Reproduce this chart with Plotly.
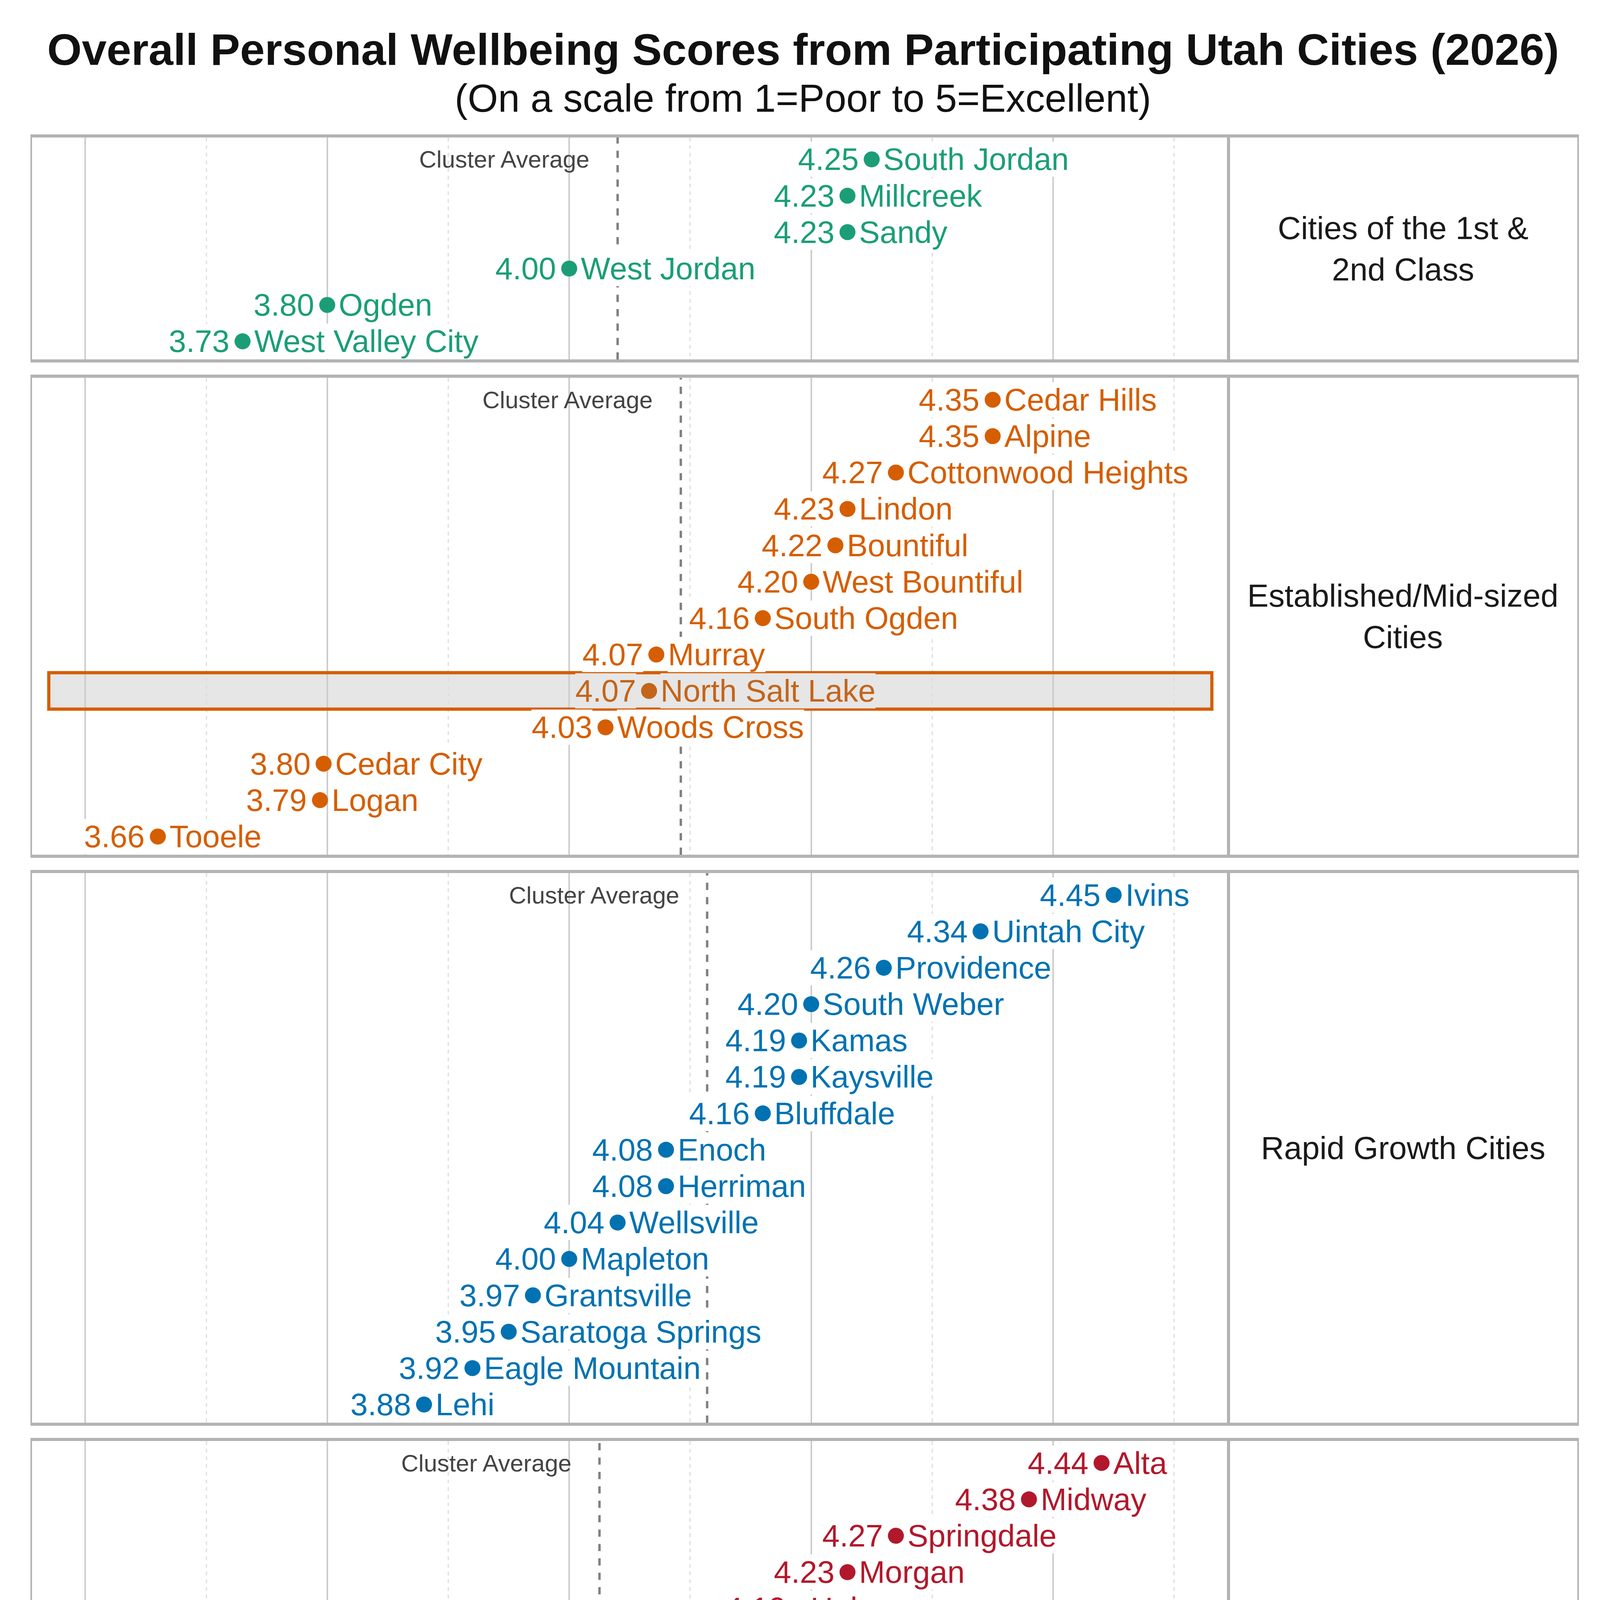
import plotly.graph_objects as go

# Title text
title = "Overall Personal Wellbeing Scores from Participating Utah Cities (2026)"
subtitle = "(On a scale from 1=Poor to 5=Excellent)"
x_title = "Average Score"

# Clusters
cluster_labels = ["Cities of the 1st &<br>2nd Class", "Established/Mid-sized<br>Cities",
                  "Rapid Growth Cities", "Rural Hub/Resort<br>Communities",
                  "Traditional Rural<br>Communities"]
cluster_colors = ["#1b9e77", "#d55e00", "#0072b2", "#b2182b", "#6a3d9a"]

first_class_cities = ["South Jordan", "Millcreek", "Sandy", "West Jordan", "Ogden", "West Valley City"]
first_class_scores = [4.25, 4.23, 4.23, 4.00, 3.80, 3.73]

established_cities = ["Cedar Hills", "Alpine", "Cottonwood Heights", "Lindon", "Bountiful",
                      "West Bountiful", "South Ogden", "Murray", "North Salt Lake", "Woods Cross",
                      "Cedar City", "Logan", "Tooele"]
established_scores = [4.35, 4.35, 4.27, 4.23, 4.22, 4.20, 4.16, 4.072, 4.066, 4.03, 3.797, 3.794, 3.66]

rapid_cities = ["Ivins", "Uintah City", "Providence", "South Weber", "Kamas", "Kaysville",
                "Bluffdale", "Enoch", "Herriman", "Wellsville", "Mapleton", "Grantsville",
                "Saratoga Springs", "Eagle Mountain", "Lehi"]
rapid_scores = [4.45, 4.34, 4.26, 4.20, 4.19, 4.19, 4.16, 4.08, 4.08, 4.04, 4.00, 3.97, 3.95, 3.92, 3.88]

resort_cities = ["Alta", "Midway", "Springdale", "Morgan", "Heber", "Manila", "Nephi",
                 "Richfield", "Bluff", "Moab", "Blanding", "Vernal", "Tremonton", "Wendover"]
resort_scores = [4.44, 4.38, 4.27, 4.23, 4.19, 4.13, 4.01, 3.99, 3.98, 3.81, 3.78, 3.75, 3.72, 3.67]

rural_cities = ["Mayfield", "Toquerville", "Lewiston", "Lake Point", "La Verkin", "Orangeville",
                "Stockton", "Ferron", "Delta"]
rural_scores = [4.27, 4.24, 4.22, 4.13, 3.97, 3.96, 3.92, 3.89, 3.77]

highlight_city = "North Salt Lake"
highlight_color = "#c4651a"

groups = [
    (first_class_cities, first_class_scores),
    (established_cities, established_scores),
    (rapid_cities, rapid_scores),
    (resort_cities, resort_scores),
    (rural_cities, rural_scores),
]

FONT = "Liberation Sans, Arial, sans-serif"
S = 4.096  # layout measured on a 1000 px wide sketch
W, H = round(1000 * S), round(1500 * S)
ml, mr, mt, mb = 18 * S, 16 * S, 84 * S, 62 * S
gap = 11.5 * S
plot_h = H - mt - mb
plot_w = W - ml - mr
units = [len(c) + 0.1 for c, _ in groups]
row_px = (plot_h - gap * (len(groups) - 1)) / sum(units)
x_split = (766 * S - ml) / plot_w

fig = go.Figure()
shapes = []
annotations = []
border = "#b3b3b3"

y_top = 1.0
for i, ((cities, scores), label, color) in enumerate(zip(groups, cluster_labels, cluster_colors)):
    h = units[i] * row_px / plot_h
    dom = [max(0.0, y_top - h), min(1.0, y_top)]
    y_top -= h + gap / plot_h
    n = len(cities)
    xa, ya = 2 * i + 1, 2 * i + 1
    xb, yb = 2 * i + 2, 2 * i + 2
    last = i == len(groups) - 1

    fig.update_layout(**{
        f"xaxis{xa}": dict(domain=[0, x_split], anchor=f"y{ya}", range=[3.556, 4.545],
                           tick0=3.6, dtick=0.2, showgrid=True, gridcolor="#cccccc", gridwidth=1 * S,
                           minor=dict(tick0=3.5, dtick=0.1, showgrid=True, gridcolor="#dddddd",
                                      griddash="dash", gridwidth=0.8 * S),
                           showline=True, mirror=True, linecolor=border, linewidth=2 * S,
                           zeroline=False, showticklabels=last, tickformat=".1f",
                           tickfont=dict(size=15 * S, color="#222")),
        f"yaxis{ya}": dict(domain=dom, anchor=f"x{xa}", type="category",
                           categoryorder="array", categoryarray=cities,
                           range=[n - 0.5, -0.6], showgrid=False, showticklabels=False,
                           showline=True, mirror=True, linecolor=border, linewidth=1 * S,
                           zeroline=False),
        f"xaxis{xb}": dict(domain=[x_split, 1], anchor=f"y{yb}", range=[0, 1],
                           showgrid=False, showticklabels=False, zeroline=False,
                           showline=True, mirror=True, linecolor=border, linewidth=2 * S),
        f"yaxis{yb}": dict(domain=dom, anchor=f"x{xb}", range=[0, 1],
                           showgrid=False, showticklabels=False, zeroline=False,
                           showline=True, mirror=True, linecolor=border, linewidth=1 * S),
    })

    xr = "x" if xa == 1 else f"x{xa}"
    yr = "y" if ya == 1 else f"y{ya}"

    marker_colors = [highlight_color if c == highlight_city else color for c in cities]
    fig.add_trace(go.Scatter(x=scores, y=cities, mode="markers", xaxis=xr, yaxis=yr,
                             marker=dict(size=10 * S, color=marker_colors), showlegend=False,
                             hoverinfo="x+y"))
    # empty trace so the label column subplot gets drawn
    fig.add_trace(go.Scatter(x=[None], y=[None], mode="markers", xaxis=f"x{xb}", yaxis=f"y{yb}",
                             showlegend=False, hoverinfo="skip"))

    avg = sum(scores) / n
    shapes.append(dict(type="line", xref=xr, yref=f"{yr} domain", x0=avg, x1=avg, y0=0, y1=1,
                       line=dict(color="#808080", width=1.5 * S, dash="dash"), layer="above"))
    annotations.append(dict(x=avg, y=cities[0], xref=xr, yref=yr, text="Cluster Average",
                            xanchor="right", yanchor="middle", xshift=-17 * S, showarrow=False,
                            font=dict(size=15 * S, color="#444", family=FONT)))

    for c, s in zip(cities, scores):
        hl = c == highlight_city
        tc = highlight_color if hl else color
        bg = "#e6e6e6" if hl else "white"
        annotations.append(dict(x=s, y=c, xref=xr, yref=yr, text=f"{s:.2f}", xanchor="right",
                                yanchor="middle", xshift=-8 * S, showarrow=False, bgcolor=bg,
                                borderpad=0, font=dict(size=19.5 * S, color=tc, family=FONT)))
        annotations.append(dict(x=s, y=c, xref=xr, yref=yr, text=c, xanchor="left",
                                yanchor="middle", xshift=7 * S, showarrow=False, bgcolor=bg,
                                borderpad=0, font=dict(size=19.5 * S, color=tc, family=FONT)))
        if hl:
            k = cities.index(c)
            shapes.append(dict(type="rect", xref=f"{xr} domain", yref=yr, x0=0.014, x1=0.986,
                               y0=k - 0.5, y1=k + 0.5, fillcolor="#e6e6e6",
                               line=dict(width=0), layer="below"))
            shapes.append(dict(type="rect", xref=f"{xr} domain", yref=yr, x0=0.014, x1=0.986,
                               y0=k - 0.5, y1=k + 0.5, fillcolor="rgba(0,0,0,0)",
                               line=dict(color=color, width=2 * S), layer="above"))

    annotations.append(dict(x=0.5, y=0.5, xref=f"x{xb} domain", yref=f"y{yb} domain",
                            text=label, showarrow=False, xanchor="center", yanchor="middle",
                            font=dict(size=20 * S, color="#1a1a1a", family=FONT)))

    if last:
        annotations.append(dict(x=0.5, y=-(1473.5 * S - (H - mb)) / plot_h, xref=f"{xr} domain",
                                yref="paper", text=x_title, showarrow=False, yanchor="middle",
                                font=dict(size=17 * S, color="#111", family=FONT)))

annotations.append(dict(x=(W / 2 - ml) / plot_w, y=1 + (mt - 59.5 * S) / plot_h, xref="paper",
                        yref="paper", text=subtitle, showarrow=False, xanchor="center",
                        yanchor="middle", font=dict(size=24.4 * S, color="#111", family=FONT)))

fig.update_layout(
    width=W, height=H,
    margin=dict(l=ml, r=mr, t=mt, b=mb),
    paper_bgcolor="white", plot_bgcolor="white",
    font=dict(family=FONT, color="#222"),
    title=dict(text=f"<b>{title}</b>", x=0.5, xanchor="center", y=1 - 28.8 * S / H,
               yanchor="middle", yref="container",
               font=dict(size=27.8 * S, color="#111", family=FONT)),
    shapes=shapes, annotations=annotations,
    showlegend=False,
)

fig.write_html("out.html")
